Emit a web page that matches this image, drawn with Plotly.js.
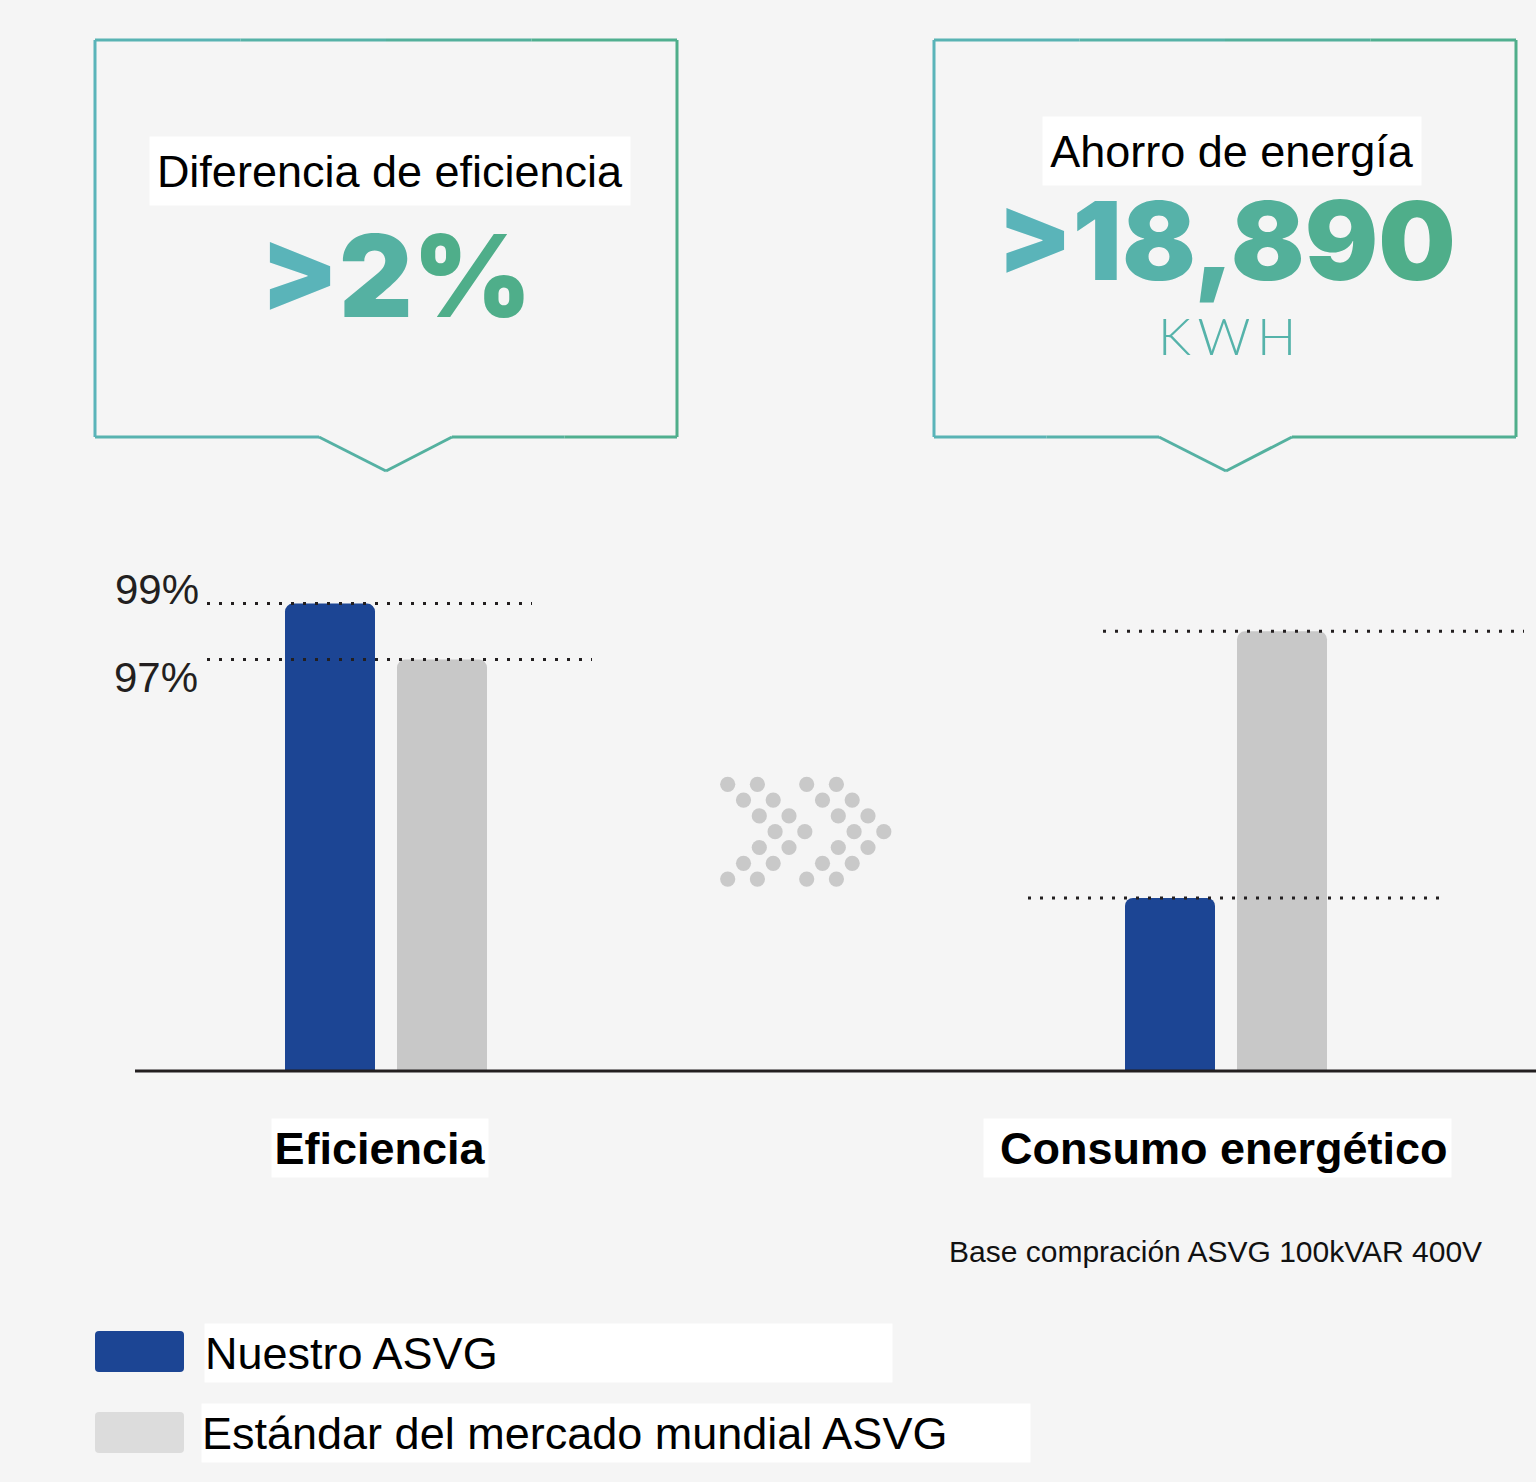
<!DOCTYPE html>
<html>
<head>
<meta charset="utf-8">
<script src="https://cdn.plot.ly/plotly-3.0.1.min.js"></script>
<style>
  html, body { margin: 0; padding: 0; background: #f5f5f5; }
  #asvg-plot { width: 1536px; height: 1482px; }
</style>
</head>
<body>
<div id="asvg-plot"></div>
<script>
// chart values
var categories = ['Eficiencia', 'Consumo energético'];
var seriesNames = ['Nuestro ASVG', 'Estándar del mercado mundial ASVG'];
var efficiency = [99, 97];            // %
var consumption = [12260, 31150];     // kWh (gap = 18,890)
var effTicks = [99, 97];
var boxTitles = ['Diferencia de eficiencia', 'Ahorro de energía'];
var boxValues = ['>2%', '>18,890'];
var boxUnit = 'KWH';
var footNote = 'Base compración ASVG 100kVAR 400V';

var W = 1536, H = 1482;
var BLUE = '#1c4594', GREY = '#c8c8c8', INK = '#231f20';
var TEAL = [90, 180, 185], GREEN = [79, 174, 138];
var NB = '\u00A0';

// pixel -> paper
function px(x) { return x / W; }
function py(y) { return 1 - y / H; }

function mix(t) {
    var c = TEAL.map(function(v, i) { return Math.round(v + (GREEN[i] - v) * t); });
    return 'rgb(' + c.join(',') + ')';
}

// colour each character along the teal -> green gradient
function gradientText(str) {
    var out = '';
    for (var i = 0; i < str.length; i++) {
        var ch = str[i] === '>' ? '&gt;' : str[i];
        out += '<span style="color:' + mix(i / (str.length - 1)) + '">' + ch + '</span>';
    }
    return out;
}

var shapes = [];
var annotations = [];

// callout boxes with pointer, outline split up so it can fade teal -> green
function callout(x0, x1, y0, y1, pl, tip, pr, tipY) {
    var pts = [[x0, y0], [x1, y0], [x1, y1], [pr, y1], [tip, tipY], [pl, y1], [x0, y1], [x0, y0]];
    for (var i = 0; i < pts.length - 1; i++) {
        var a = pts[i], b = pts[i + 1];
        var n = Math.max(1, Math.round(Math.abs(b[0] - a[0]) / 150));
        for (var k = 0; k < n; k++) {
            var xa = a[0] + (b[0] - a[0]) * k / n, xb = a[0] + (b[0] - a[0]) * (k + 1) / n;
            var ya = a[1] + (b[1] - a[1]) * k / n, yb = a[1] + (b[1] - a[1]) * (k + 1) / n;
            shapes.push({
                type: 'line', xref: 'paper', yref: 'paper',
                x0: px(xa), x1: px(xb), y0: py(ya), y1: py(yb),
                line: { color: mix(((xa + xb) / 2 - x0) / (x1 - x0)), width: 3 }
            });
        }
    }
}
callout(95, 677, 40, 437, 319, 386, 452, 471);
callout(934, 1516, 40, 437, 1159, 1226, 1292, 471);

// text on a white strip
function whiteLabel(text, cx, cy, w, h, size, bold, align) {
    annotations.push({
        xref: 'paper', yref: 'paper', x: px(cx), y: py(cy),
        xanchor: 'center', yanchor: 'middle',
        text: text, showarrow: false,
        width: w, height: h, align: align || 'center', valign: 'middle',
        bgcolor: '#ffffff', borderpad: 0,
        font: { family: 'Liberation Sans, Arial, sans-serif', size: size, color: '#000000', weight: bold ? 'bold' : 'normal' }
    });
}
whiteLabel(boxTitles[0], 390, 171, 480, 68, 45);
whiteLabel(boxTitles[1], 1232, 151, 378, 68, 45);

annotations.push({
    xref: 'paper', yref: 'paper', x: px(396), y: py(275), xanchor: 'center', yanchor: 'middle',
    text: gradientText(boxValues[0]), showarrow: false,
    font: { family: 'Inter, sans-serif', size: 114, weight: 900 }
});
annotations.push({
    xref: 'paper', yref: 'paper', x: px(1226), y: py(240), xanchor: 'center', yanchor: 'middle',
    text: gradientText(boxValues[1]), showarrow: false,
    font: { family: 'Inter, sans-serif', size: 109, weight: 900 }
});
annotations.push({
    xref: 'paper', yref: 'paper', x: px(1227), y: py(335), xanchor: 'center', yanchor: 'middle',
    text: boxUnit.split('').join('\u2009'), showarrow: false,
    font: { family: 'Lato, sans-serif', size: 52, weight: 300, color: '#55b3aa' }
});

// baseline
shapes.push({
    type: 'line', xref: 'paper', yref: 'paper',
    x0: px(135), x1: 1, y0: py(1071), y1: py(1071),
    line: { color: INK, width: 3 }
});

// dotted reference lines at bar tops
function dotted(yref, val, xa, xb) {
    shapes.push({
        type: 'line', xref: 'paper', yref: yref,
        x0: px(xa), x1: px(xb), y0: val, y1: val,
        line: { color: INK, width: 3, dash: '3px,9px' }, layer: 'above'
    });
}
dotted('y', efficiency[0], 207, 532);
dotted('y', efficiency[1], 207, 592);
dotted('y2', consumption[1], 1103, 1524);
dotted('y2', consumption[0], 1028, 1448);

// percent labels
annotations.push({
    xref: 'paper', yref: 'y', x: px(201), y: effTicks[0], xanchor: 'right', yanchor: 'bottom',
    yshift: -11, text: effTicks[0] + '%', showarrow: false,
    font: { family: 'Liberation Sans, Arial, sans-serif', size: 42, color: INK }
});
annotations.push({
    xref: 'paper', yref: 'y', x: px(200), y: effTicks[1], xanchor: 'right', yanchor: 'top',
    yshift: 8, text: effTicks[1] + '%', showarrow: false,
    font: { family: 'Liberation Sans, Arial, sans-serif', size: 42, color: INK }
});

// double chevron of dots between groups
var rows = [0, 1, 2, 3, 2, 1, 0];
[0, 79].forEach(function(dx) {
    [0, 29.7].forEach(function(cx) {
        rows.forEach(function(r, i) {
            var x = 727.7 + dx + cx + 15.8 * r, y = 784.3 + 15.8 * i, rad = 7.6;
            shapes.push({
                type: 'circle', xref: 'paper', yref: 'paper',
                x0: px(x - rad), x1: px(x + rad), y0: py(y + rad), y1: py(y - rad),
                fillcolor: '#c9c9c9', line: { width: 0 }
            });
        });
    });
});

// category labels
whiteLabel(categories[0], 380, 1148, 216, 58, 45, true);
whiteLabel(NB + categories[1], 1217, 1148, 467, 58, 45, true);

annotations.push({
    xref: 'paper', yref: 'paper', x: px(1484), y: py(1251), xanchor: 'right', yanchor: 'middle',
    text: footNote, showarrow: false,
    font: { family: 'Liberation Sans, Arial, sans-serif', size: 30, color: '#111111' }
});

// legend, drawn by hand to get the large swatches
[[BLUE, 1331, 1372], ['#dcdcdc', 1412, 1453]].forEach(function(l) {
    shapes.push({
        type: 'path', xref: 'paper', yref: 'paper', fillcolor: l[0], line: { width: 0 },
        path: 'M' + px(99) + ',' + py(l[1]) + ' L' + px(180) + ',' + py(l[1]) +
              ' Q' + px(184) + ',' + py(l[1]) + ' ' + px(184) + ',' + py(l[1] + 4) +
              ' L' + px(184) + ',' + py(l[2] - 4) +
              ' Q' + px(184) + ',' + py(l[2]) + ' ' + px(180) + ',' + py(l[2]) +
              ' L' + px(99) + ',' + py(l[2]) +
              ' Q' + px(95) + ',' + py(l[2]) + ' ' + px(95) + ',' + py(l[2] - 4) +
              ' L' + px(95) + ',' + py(l[1] + 4) +
              ' Q' + px(95) + ',' + py(l[1]) + ' ' + px(99) + ',' + py(l[1]) + ' Z'
    });
});
whiteLabel(seriesNames[0], 548.5, 1353, 687, 58, 45, false, 'left');
whiteLabel(seriesNames[1], 616, 1433, 828, 58, 45, false, 'left');

var data = [
    { type: 'bar', x: [categories[0]], y: [efficiency[0]], name: seriesNames[0], xaxis: 'x', yaxis: 'y', marker: { color: BLUE } },
    { type: 'bar', x: [categories[0]], y: [efficiency[1]], name: seriesNames[1], xaxis: 'x', yaxis: 'y', marker: { color: GREY } },
    { type: 'bar', x: [categories[1]], y: [consumption[0]], name: seriesNames[0], xaxis: 'x2', yaxis: 'y2', marker: { color: BLUE } },
    { type: 'bar', x: [categories[1]], y: [consumption[1]], name: seriesNames[1], xaxis: 'x2', yaxis: 'y2', marker: { color: GREY } }
];

var yDomain = [py(1071), py(540)];
var plotPx = 1071 - 540;

var hidden = { showgrid: false, zeroline: false, showline: false, showticklabels: false, ticks: '' };

var layout = {
    width: W,
    height: H,
    showlegend: false,
    margin: { l: 0, r: 0, t: 0, b: 0 },
    paper_bgcolor: '#f5f5f5',
    plot_bgcolor: 'rgba(0,0,0,0)',
    barmode: 'group',
    bargap: 0.552,
    bargroupgap: 0.1964,
    barcornerradius: 8,
    xaxis: Object.assign({ domain: [px(136), px(636)], range: [-0.5, 0.5], type: 'category' }, hidden),
    xaxis2: Object.assign({ domain: [px(976), px(1476)], range: [-0.5, 0.5], type: 'category', anchor: 'y2' }, hidden),
    // 28 px per percentage point, 99% sits 467 px above the baseline
    yaxis: Object.assign({ domain: yDomain, range: [99 - 467.4 / 28, 99 - 467.4 / 28 + plotPx / 28] }, hidden),
    yaxis2: Object.assign({ domain: yDomain, range: [0, plotPx * consumption[1] / 439.7], anchor: 'x2' }, hidden),
    shapes: shapes,
    annotations: annotations
};

Plotly.newPlot('asvg-plot', data, layout, { displayModeBar: false, staticPlot: true });
</script>
</body>
</html>
